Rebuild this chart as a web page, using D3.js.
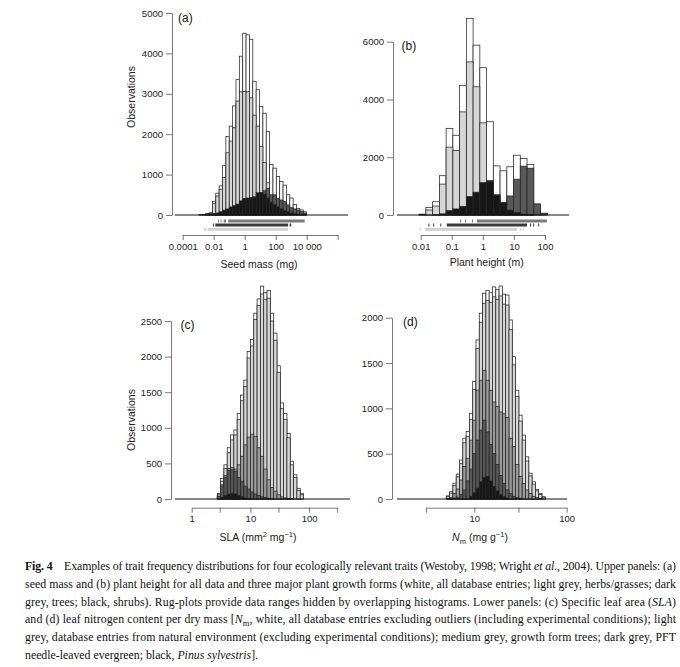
<!DOCTYPE html>
<html>
<head>
<meta charset="utf-8">
<script src="https://cdn.jsdelivr.net/npm/d3@7"></script>
<style>
  body { margin: 0; background: #fff; }
  svg text { font-family: "Liberation Sans", Arial, sans-serif; }
</style>
</head>
<body>
<svg></svg>
<script>
// ---------- data (bins are in log10 units) ----------
// (a) seed mass (mg)
const seedBinStart = -2.95;
const seedBinWidth = 0.217;
const seedAll = [5, 15, 30, 50, 340, 540, 720, 1220, 1940, 2200, 2700, 3350, 3930, 4500, 4460, 4350,
  3310, 3100, 2690, 2520, 2070, 1250, 1160, 950, 830, 740, 500, 420, 260, 165, 125, 80];
const seedHerbs = [0, 0, 0, 0, 290, 470, 640, 930, 1540, 1830, 2160, 2820, 3050, 3060, 3050, 2900,
  2470, 2200, 1700, 1300, 800, 400, 250, 120, 60, 30, 10, 0, 0, 0, 0, 0];
const seedTrees = [5, 15, 30, 50, 30, 40, 50, 60, 70, 90, 110, 130, 160, 200, 250, 300,
  380, 450, 520, 600, 660, 500, 500, 410, 370, 330, 250, 180, 150, 125, 85, 50];
const seedShrubs = [0, 0, 5, 10, 30, 50, 80, 120, 150, 200, 230, 270, 350, 410, 420, 430,
  450, 550, 560, 520, 420, 320, 260, 200, 150, 110, 80, 50, 30, 20, 10, 5];
const seedTicks = [1e-4, 1e-2, 1, 100, 1e4, 1e6];
const seedTickLabels = ["0.0001", "0.01", "1", "100", "10 000", ""];
const seedYTicks = [0, 1000, 2000, 3000, 4000, 5000];
// rug ranges, log10 [from, to]
const rugSeedTrees = [[-1.72, -1.70], [-1.55, -1.53], [-1.36, -1.2], [-1.07, 3.87]];
const rugSeedShrubs = [[-2.05, -2.02], [-1.9, 2.8], [2.9, 3.0]];
const rugSeedHerbs = [[-2.6, -2.5], [-2.4, 2.8]];

// (b) plant height (m)
const heightBinStart = -2.05;
const heightBinWidth = 0.217;
const heightAll = [30, 265, 460, 1360, 3000, 2760, 4490, 6800, 5880, 5100, 3230, 1700, 1530, 1670, 2070, 1960, 1750, 380, 60];
const heightHerbs = [20, 175, 310, 1070, 2350, 2230, 3570, 5300, 4440, 3190, 1190, 700, 350, 150, 60, 20, 10, 0, 0];
const heightTrees = [0, 0, 0, 0, 0, 10, 20, 40, 80, 150, 300, 450, 400, 660, 1240, 1690, 1620, 380, 60];
const heightShrubs = [0, 0, 5, 40, 150, 210, 300, 640, 790, 1120, 1170, 690, 440, 170, 80, 30, 10, 0, 0];
const heightTicks = [0.01, 0.1, 1, 10, 100];
const heightTickLabels = ["0.01", "0.1", "1", "10", "100"];
const heightYTicks = [0, 2000, 4000, 6000];
const rugHeightTrees = [[-0.73, -0.71], [-0.57, -0.55], [-0.35, -0.33], [-0.19, 2.06]];
const rugHeightShrubs = [[-1.75, -1.73], [-1.6, -1.58], [-1.37, -1.35], [-1.16, 1.42], [1.52, 1.54], [1.62, 1.64], [1.78, 1.8]];
const rugHeightHerbs = [[-2.02, -2.0], [-1.85, 1.1], [1.2, 1.22], [1.3, 1.32]];

// (c) SLA (mm2 mg-1)
const slaBinStart = 0.436;
const slaBinWidth = 0.0565;
const slaAll = [80, 290, 480, 720, 900, 970, 1200, 1460, 1670, 2070, 2240, 2610, 2810, 2990, 2900, 2930, 2610, 2330, 1870, 1350, 1200, 920, 530, 340, 150, 80];
const slaNatural = [60, 250, 430, 650, 830, 900, 1120, 1380, 1580, 1980, 2150, 2520, 2720, 2880, 2800, 2820, 2500, 2230, 1780, 1270, 1120, 860, 480, 300, 120, 60];
const slaTrees = [40, 200, 330, 430, 440, 420, 480, 600, 760, 870, 910, 880, 720, 600, 420, 270, 160, 110, 60, 30, 15, 8, 3, 0, 0, 0];
const slaNeedle = [30, 180, 300, 400, 410, 390, 300, 250, 180, 140, 100, 70, 50, 30, 20, 10, 5, 0, 0, 0, 0, 0, 0, 0, 0, 0];
const slaPinus = [0, 20, 50, 70, 80, 70, 50, 30, 15, 5, 0, 0, 0, 0, 0, 0, 0, 0, 0, 0, 0, 0, 0, 0, 0, 0];
const slaTicks = [1, 3, 10, 30, 100, 300];
const slaTickLabels = ["1", "", "10", "", "100", ""];
const slaYTicks = [0, 500, 1000, 1500, 2000, 2500];

// (d) leaf N (mg g-1)
const nBinStart = 0.697;
const nBinWidth = 0.0357;
const nAll = [35, 80, 175, 275, 430, 670, 745, 945, 1295, 1755, 2050, 2270, 2300, 2275, 2340, 2310, 2350, 2260, 2250, 1975, 1570, 1200, 925, 705, 465, 285, 190, 105, 60, 25];
const nNatural = [25, 65, 150, 245, 390, 620, 690, 880, 1210, 1660, 1950, 2160, 2190, 2170, 2230, 2200, 2240, 2150, 2140, 1870, 1480, 1130, 860, 650, 420, 255, 165, 90, 50, 20];
const nTrees = [5, 15, 60, 110, 210, 360, 450, 650, 870, 1200, 1310, 1420, 1310, 1200, 1070, 1020, 960, 940, 900, 670, 580, 380, 250, 170, 100, 60, 30, 15, 5, 0];
const nNeedle = [0, 5, 10, 20, 50, 100, 200, 330, 500, 650, 760, 870, 740, 600, 500, 380, 260, 170, 100, 60, 30, 15, 5, 0, 0, 0, 0, 0, 0, 0];
const nPinus = [0, 0, 0, 0, 0, 0, 0, 30, 70, 120, 190, 240, 250, 200, 140, 90, 50, 25, 10, 0, 0, 0, 0, 0, 0, 0, 0, 0, 0, 0];
const nTicks = [3, 10, 30, 100];
const nTickLabels = ["", "10", "", "100"];
const nYTicks = [0, 500, 1000, 1500, 2000];

// caption lines: [text, style]
const captionLines = [
  [["Fig. 4", "b"], ["    Examples of trait frequency distributions for four ecologically relevant traits (Westoby, 1998; Wright ", ""], ["et al.", "i"], [", 2004). Upper panels: (a)", ""]],
  [["seed mass and (b) plant height for all data and three major plant growth forms (white, all database entries; light grey, herbs/grasses; dark", ""]],
  [["grey, trees; black, shrubs). Rug-plots provide data ranges hidden by overlapping histograms. Lower panels: (c) Specific leaf area (", ""], ["SLA", "i"], [")", ""]],
  [["and (d) leaf nitrogen content per dry mass [", ""], ["N", "i"], ["m", "sub"], [", white, all database entries excluding outliers (including experimental conditions); light", ""]],
  [["grey, database entries from natural environment (excluding experimental conditions); medium grey, growth form trees; dark grey, PFT", ""]],
  [["needle-leaved evergreen; black, ", ""], ["Pinus sylvestris", "i"], ["].", ""]]
];

// ---------- drawing ----------
const svg = d3.select("svg").attr("width", 680).attr("height", 667);
svg.append("rect").attr("width", 680).attr("height", 667).attr("fill", "#fff");

function drawHist(g, x, y, start, width, counts, fill) {
  const bins = counts.map((c, i) => ({ c: c, lo: start + i * width, hi: start + (i + 1) * width }))
    .filter(d => d.c > 0);
  g.append("g")
    .selectAll("rect")
    .data(bins)
    .enter()
    .append("rect")
    .attr("x", d => x(Math.pow(10, d.lo)))
    .attr("width", d => x(Math.pow(10, d.hi)) - x(Math.pow(10, d.lo)))
    .attr("y", d => y(d.c))
    .attr("height", d => y(0) - y(d.c))
    .attr("fill", fill)
    .attr("stroke", "#262626")
    .attr("stroke-width", 0.75);
}

function drawRug(g, x, yc, spans, color) {
  g.append("g")
    .selectAll("rect")
    .data(spans)
    .enter()
    .append("rect")
    .attr("x", d => x(Math.pow(10, d[0])))
    .attr("width", d => Math.max(1, x(Math.pow(10, d[1])) - x(Math.pow(10, d[0]))))
    .attr("y", yc - 1.5)
    .attr("height", 3)
    .attr("fill", color);
}

function richText(x, y, parts, size, anchor) {
  const t = svg.append("text")
    .attr("x", x)
    .attr("y", y)
    .attr("text-anchor", anchor || "middle")
    .attr("font-size", size)
    .attr("fill", "#1a1a1a");
  let shift = 0;
  parts.forEach(([s, kind]) => {
    const sp = t.append("tspan").text(s);
    const target = kind === "sup" ? -size * 0.38 : kind === "sub" ? size * 0.25 : 0;
    sp.attr("dy", target - shift);
    shift = target;
    if (kind === "sup" || kind === "sub") sp.attr("font-size", size * 0.72);
    if (kind === "i") sp.attr("font-style", "italic");
    if (kind === "b") sp.attr("font-weight", "bold");
  });
  return t;
}

function drawPanel(p) {
  const x = d3.scaleLog()
    .domain([p.ticks[0], p.ticks[p.ticks.length - 1]])
    .range([p.x0, p.x1]);
  const y = d3.scaleLinear()
    .domain([0, p.yTicks[p.yTicks.length - 1]])
    .range([p.yBase, p.yTop]);
  const g = svg.append("g");

  p.series.forEach(s => drawHist(g, x, y, p.binStart, p.binWidth, s.counts, s.fill));

  // zero line across the plot region
  g.append("line")
    .attr("x1", p.plotLeft).attr("x2", p.plotRight)
    .attr("y1", y(0)).attr("y2", y(0))
    .attr("stroke", "#111").attr("stroke-width", 1.2);

  if (p.rugs) {
    p.rugs.forEach(r => drawRug(g, x, r.y, r.spans, r.color));
  }

  // y axis
  const ya = g.append("g")
    .attr("transform", `translate(${p.yAxisX},0)`)
    .call(d3.axisLeft(y).tickValues(p.yTicks).tickSize(6).tickSizeOuter(0).tickPadding(3).tickFormat(d3.format("d")));
  // x axis
  const xa = g.append("g")
    .attr("transform", `translate(0,${p.xAxisY})`)
    .call(d3.axisBottom(x).tickValues(p.ticks).tickSize(5).tickSizeOuter(0).tickPadding(3)
      .tickFormat((d, i) => p.tickLabels[i]));
  [ya, xa].forEach(a => {
    a.attr("font-family", null).attr("font-size", null);
    a.selectAll("path, line").attr("stroke", "#555").attr("stroke-width", 0.8);
    a.selectAll("text").attr("font-size", 9.5).attr("fill", "#222");
  });

  // panel letter
  svg.append("text")
    .attr("x", p.labelX).attr("y", p.labelY)
    .attr("font-size", 12).attr("fill", "#111")
    .text(p.label);

  richText(p.titleX, p.titleY, p.title, 10.5);

  if (p.yTitle) {
    svg.append("text")
      .attr("transform", `translate(${p.yTitleX},${p.yTitleY}) rotate(-90)`)
      .attr("text-anchor", "middle")
      .attr("font-size", 10.5)
      .attr("fill", "#1a1a1a")
      .text("Observations");
  }
}

const LIGHT = "#d6d6d6";
const MEDIUM = "#9b9b9b";
const DARK = "#585858";
const BLACK = "#171717";

drawPanel({
  label: "(a)", labelX: 178, labelY: 21.5,
  ticks: seedTicks, tickLabels: seedTickLabels, yTicks: seedYTicks,
  x0: 182.7, x1: 337.7, yBase: 215, yTop: 13,
  plotLeft: 175, plotRight: 348, yAxisX: 172, xAxisY: 235,
  binStart: seedBinStart, binWidth: seedBinWidth,
  series: [
    { counts: seedAll, fill: "#fff" },
    { counts: seedHerbs, fill: LIGHT },
    { counts: seedTrees, fill: DARK },
    { counts: seedShrubs, fill: BLACK }
  ],
  rugs: [
    { y: 221, spans: rugSeedTrees, color: "#7a7a7a" },
    { y: 225, spans: rugSeedShrubs, color: "#3a3a3a" },
    { y: 229.3, spans: rugSeedHerbs, color: "#d2d2d2" }
  ],
  title: [["Seed mass (mg)", ""]], titleX: 259, titleY: 268,
  yTitle: true, yTitleX: 135, yTitleY: 97
});

drawPanel({
  label: "(b)", labelX: 401.5, labelY: 49.5,
  ticks: heightTicks, tickLabels: heightTickLabels, yTicks: heightYTicks,
  x0: 420.7, x1: 545, yBase: 215, yTop: 41.7,
  plotLeft: 397, plotRight: 569, yAxisX: 393, xAxisY: 235,
  binStart: heightBinStart, binWidth: heightBinWidth,
  series: [
    { counts: heightAll, fill: "#fff" },
    { counts: heightHerbs, fill: LIGHT },
    { counts: heightTrees, fill: DARK },
    { counts: heightShrubs, fill: BLACK }
  ],
  rugs: [
    { y: 221, spans: rugHeightTrees, color: "#7a7a7a" },
    { y: 225, spans: rugHeightShrubs, color: "#3a3a3a" },
    { y: 229.3, spans: rugHeightHerbs, color: "#d2d2d2" }
  ],
  title: [["Plant height (m)", ""]], titleX: 486.7, titleY: 266
});

drawPanel({
  label: "(c)", labelX: 180.5, labelY: 328.5,
  ticks: slaTicks, tickLabels: slaTickLabels, yTicks: slaYTicks,
  x0: 191.7, x1: 337.1, yBase: 499, yTop: 321,
  plotLeft: 175, plotRight: 350, yAxisX: 171, xAxisY: 507.7,
  binStart: slaBinStart, binWidth: slaBinWidth,
  series: [
    { counts: slaAll, fill: "#fff" },
    { counts: slaNatural, fill: LIGHT },
    { counts: slaTrees, fill: MEDIUM },
    { counts: slaNeedle, fill: DARK },
    { counts: slaPinus, fill: BLACK }
  ],
  title: [["SLA (mm", ""], ["2", "sup"], [" mg", ""], ["\u22121", "sup"], [")", ""]], titleX: 258, titleY: 541,
  yTitle: true, yTitleX: 135, yTitleY: 420
});

drawPanel({
  label: "(d)", labelX: 403, labelY: 326,
  ticks: nTicks, tickLabels: nTickLabels, yTicks: nYTicks,
  x0: 426, x1: 566.7, yBase: 499, yTop: 317.7,
  plotLeft: 397, plotRight: 567, yAxisX: 392, xAxisY: 507.7,
  binStart: nBinStart, binWidth: nBinWidth,
  series: [
    { counts: nAll, fill: "#fff" },
    { counts: nNatural, fill: LIGHT },
    { counts: nTrees, fill: MEDIUM },
    { counts: nNeedle, fill: DARK },
    { counts: nPinus, fill: BLACK }
  ],
  title: [["N", "i"], ["m", "sub"], [" (mg g", ""], ["\u22121", "sup"], [")", ""]], titleX: 480, titleY: 541
});

// caption, justified lines except the last
captionLines.forEach((line, i) => {
  const t = richText(25, 570 + i * 17.8, line, 11.8, "start")
    .style("font-family", "'Liberation Serif', 'Times New Roman', serif")
    .style("white-space", "pre")
    .attr("fill", "#111");
  if (i < captionLines.length - 1) {
    t.attr("textLength", 651).attr("lengthAdjust", "spacing");
  }
});
</script>
</body>
</html>
